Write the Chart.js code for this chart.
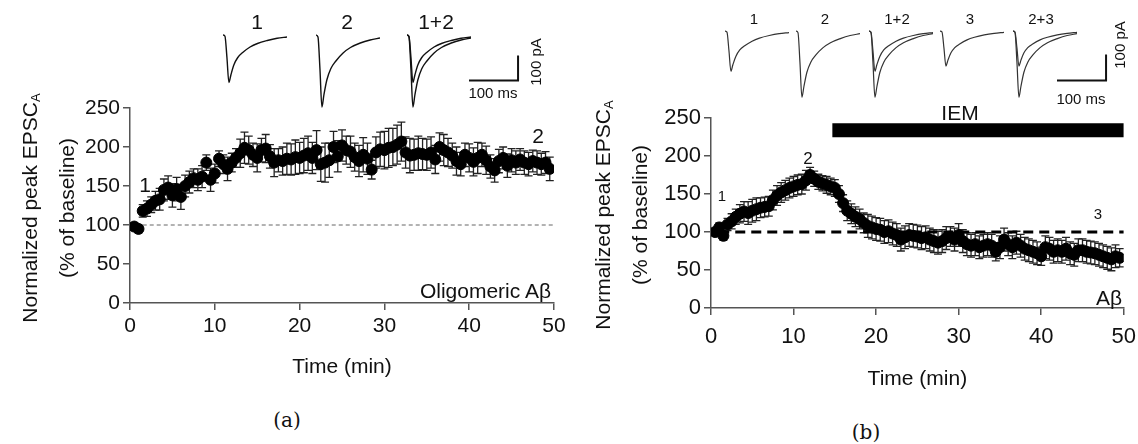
<!DOCTYPE html>
<html>
<head>
<meta charset="utf-8">
<script src="https://cdn.jsdelivr.net/npm/chart.js@4"></script>
<style>
  body { margin: 0; background: #fff; }
  #page { position: relative; width: 1138px; height: 444px; overflow: hidden; font-family: 'Liberation Sans', Arial, sans-serif; color: #111; }
  canvas { position: absolute; }
  .lbl { position: absolute; transform: translate(-50%, -50%); white-space: nowrap; line-height: 1; }
  .rgt { transform: translate(-100%, -50%); }
  .ytitle { position: absolute; width: 300px; text-align: center; line-height: 31px; font-size: 21px;
            transform: translate(-50%, -50%) rotate(-90deg); }
  .ytitle sub { font-size: 13px; vertical-align: -3px; }
  .rot { transform: translate(-50%, -50%) rotate(-90deg); }
  .cap { font-family: 'DejaVu Serif', 'Liberation Serif', serif; font-size: 20px; }
</style>
</head>
<body>
<div id="page">
  <canvas id="chartA" width="575" height="300" style="left:0;top:90px"></canvas>
  <canvas id="chartB" width="570" height="300" style="left:575px;top:100px"></canvas>

  <canvas id="trA1" width="64" height="77" style="left:223px;top:33px"></canvas>
  <canvas id="trA2" width="64" height="77" style="left:316px;top:33px"></canvas>
  <canvas id="trA3" width="64" height="77" style="left:407px;top:33px"></canvas>
  <canvas id="barA" width="52" height="30" style="left:469px;top:53px"></canvas>

  <canvas id="trB1" width="64" height="72" style="left:725px;top:29px"></canvas>
  <canvas id="trB2" width="64" height="72" style="left:796px;top:29px"></canvas>
  <canvas id="trB3" width="64" height="72" style="left:869px;top:29px"></canvas>
  <canvas id="trB4" width="64" height="72" style="left:940px;top:29px"></canvas>
  <canvas id="trB5" width="64" height="72" style="left:1013px;top:29px"></canvas>
  <canvas id="barB" width="52" height="31" style="left:1057px;top:52px"></canvas>

  <!-- panel a text -->
  <div class="ytitle" style="left:48px;top:208px">Normalized peak EPSC<sub>A</sub><br>(% of baseline)</div>
  <div class="lbl" style="left:257px;top:21px;font-size:21px">1</div>
  <div class="lbl" style="left:347px;top:21px;font-size:21px">2</div>
  <div class="lbl" style="left:436px;top:21px;font-size:21px">1+2</div>
  <div class="lbl" style="left:493px;top:92px;font-size:15px">100 ms</div>
  <div class="lbl rot" style="left:535px;top:62px;font-size:15px">100 pA</div>
  <div class="lbl" style="left:145px;top:184px;font-size:21px">1</div>
  <div class="lbl" style="left:538px;top:135px;font-size:21px">2</div>
  <div class="lbl rgt" style="left:551px;top:290px;font-size:21px">Oligomeric Aβ</div>
  <div class="lbl cap" style="left:287px;top:420px">(a)</div>

  <!-- panel b text -->
  <div class="ytitle" style="left:621px;top:215px">Normalized peak EPSC<sub>A</sub><br>(% of baseline)</div>
  <div class="lbl" style="left:754px;top:18px;font-size:15px">1</div>
  <div class="lbl" style="left:825px;top:18px;font-size:15px">2</div>
  <div class="lbl" style="left:897px;top:18px;font-size:15px">1+2</div>
  <div class="lbl" style="left:970px;top:18px;font-size:15px">3</div>
  <div class="lbl" style="left:1041px;top:18px;font-size:15px">2+3</div>
  <div class="lbl" style="left:1081px;top:98px;font-size:15px">100 ms</div>
  <div class="lbl rot" style="left:1119px;top:45px;font-size:15px">100 pA</div>
  <div class="lbl" style="left:960px;top:112px;font-size:21px">IEM</div>
  <div class="lbl" style="left:722px;top:195px;font-size:15px">1</div>
  <div class="lbl" style="left:808px;top:158px;font-size:17px">2</div>
  <div class="lbl" style="left:1098px;top:213px;font-size:15px">3</div>
  <div class="lbl rgt" style="left:1122px;top:297px;font-size:21px">Aβ</div>
  <div class="lbl cap" style="left:866px;top:432px">(b)</div>
</div>

<script>
// ---- data: panel (a), oligomeric Abeta ----
const timesA = [0.5, 1, 1.5, 2, 2.5, 3, 3.5, 4, 4.5, 5, 5.5, 6, 6.5, 7, 7.5, 8, 8.5, 9, 9.5, 10,
  10.5, 11, 11.5, 12, 12.5, 13, 13.5, 14, 14.5, 15, 15.5, 16, 16.5, 17, 17.5, 18, 18.5, 19, 19.5, 20,
  20.5, 21, 21.5, 22, 22.5, 23, 23.5, 24, 24.5, 25, 25.5, 26, 26.5, 27, 27.5, 28, 28.5, 29, 29.5, 30,
  30.5, 31, 31.5, 32, 32.5, 33, 33.5, 34, 34.5, 35, 35.5, 36, 36.5, 37, 37.5, 38, 38.5, 39, 39.5, 40,
  40.5, 41, 41.5, 42, 42.5, 43, 43.5, 44, 44.5, 45, 45.5, 46, 46.5, 47, 47.5, 48, 48.5, 49, 49.5];
const valuesA = [98, 95, 118, 121, 126, 131, 133, 145, 148, 138, 146, 136, 150, 155, 160, 158, 162, 180, 158, 166,
  185, 178, 172, 180, 186, 192, 199, 196, 190, 186, 196, 198, 188, 180, 183, 182, 185, 184, 187, 186,
  189, 192, 186, 196, 178, 180, 183, 200, 188, 202, 196, 194, 187, 182, 190, 185, 171, 193, 197, 196,
  199, 200, 203, 207, 193, 189, 190, 192, 191, 190, 193, 184, 200, 196, 193, 189, 182, 178, 190, 186,
  181, 186, 190, 183, 175, 170, 182, 186, 176, 183, 180, 184, 180, 178, 182, 180, 178, 180, 172];
const errorsA = [5, 5, 8, 10, 10, 12, 14, 14, 15, 15, 15, 16, 14, 14, 12, 14, 14, 10, 15, 12,
  10, 12, 15, 12, 12, 18, 20, 18, 15, 18, 15, 18, 15, 18, 15, 18, 20, 20, 22, 20,
  22, 22, 20, 25, 22, 25, 22, 20, 20, 20, 18, 20, 18, 20, 22, 20, 12, 20, 22, 24,
  25, 24, 25, 25, 20, 22, 20, 22, 20, 20, 20, 18, 18, 20, 18, 16, 18, 15, 15, 18,
  18, 20, 15, 18, 15, 15, 15, 14, 15, 15, 15, 14, 15, 15, 14, 15, 14, 14, 15];

// ---- data: panel (b), Abeta + IEM ----
const timesB = timesA.slice();
const valuesB = [100, 106, 95, 110, 114, 120, 124, 127, 125, 128, 130, 132, 133, 134, 142, 148, 152, 155, 158, 160,
  162, 163, 168, 175, 170, 166, 164, 162, 160, 158, 150, 138, 128, 124, 120, 117, 112, 108, 106, 104,
  103, 100, 101, 98, 96, 90, 93, 96, 95, 94, 92, 93, 90, 88, 86, 88, 92, 94, 90, 96,
  88, 84, 82, 84, 80, 82, 84, 82, 74, 80, 90, 84, 80, 86, 82, 78, 76, 74, 72, 68,
  80, 78, 74, 76, 74, 78, 72, 70, 76, 76, 74, 73, 72, 70, 68, 66, 64, 68, 66];
const errorsB = [5, 6, 6, 8, 10, 10, 12, 13, 15, 15, 15, 13, 13, 13, 13, 13, 13, 13, 13, 13,
  13, 13, 13, 10, 10, 10, 10, 11, 11, 11, 11, 11, 13, 13, 13, 13, 13, 15, 15, 15,
  15, 15, 15, 15, 15, 15, 15, 15, 15, 15, 15, 15, 15, 15, 15, 15, 15, 13, 15, 15,
  15, 15, 15, 15, 15, 15, 15, 15, 12, 15, 15, 15, 15, 15, 15, 15, 15, 15, 15, 12,
  15, 15, 15, 15, 15, 15, 15, 15, 15, 15, 15, 15, 15, 15, 15, 15, 15, 15, 12];

const baselineA = [1.5, 50];
const baselineB = [1, 50];
const iemPeriod = [14.7, 50];
const iemLevel = 234;
const yTicks = [0, 50, 100, 150, 200, 250];
const xTicks = [0, 10, 20, 30, 40, 50];

// ---- data: example EPSC traces (time in ms, current in pA) ----
const traceTimes = [0, 4, 8, 12, 16, 22, 30, 40, 55, 70, 90, 110, 130];
const traceA1 = [0, -5, -90, -190, -160, -120, -90, -70, -48, -34, -22, -13, -8];
const traceA2 = [0, -8, -135, -288, -240, -180, -135, -105, -72, -50, -32, -20, -12];
const traceB1 = [0, -4, -75, -155, -130, -98, -73, -57, -39, -27, -17, -10, -6];
const traceB2 = [0, -6, -120, -255, -215, -160, -120, -93, -64, -45, -29, -17, -10];
const traceB3 = [0, -3, -65, -135, -113, -85, -64, -50, -34, -24, -15, -9, -5];
const scaleBarX = [0, 100, 100];   // ms
const scaleBarY = [0, 0, 100];     // pA

Chart.defaults.font.family = "'Liberation Sans', Arial, sans-serif";
Chart.defaults.color = '#111';
Chart.defaults.animation = false;

const errorBars = {
  id: 'errorBars',
  beforeDatasetsDraw(chart) {
    const ctx = chart.ctx;
    const ys = chart.scales.y;
    chart.data.datasets.forEach((ds, i) => {
      if (!ds.errors) return;
      const meta = chart.getDatasetMeta(i);
      ctx.save();
      ctx.strokeStyle = '#222';
      ctx.lineWidth = 1.3;
      meta.data.forEach((pt, j) => {
        const v = ds.data[j].y, e = ds.errors[j];
        const top = ys.getPixelForValue(v + e);
        const bot = ys.getPixelForValue(v - e);
        const cap = 4;
        ctx.beginPath();
        ctx.moveTo(pt.x, top); ctx.lineTo(pt.x, bot);
        ctx.moveTo(pt.x - cap, top); ctx.lineTo(pt.x + cap, top);
        ctx.moveTo(pt.x - cap, bot); ctx.lineTo(pt.x + cap, bot);
        ctx.stroke();
      });
      ctx.restore();
    });
  }
};

function mainChart(id, times, values, errors, cfg) {
  const datasets = [{
    type: 'scatter',
    data: times.map((t, i) => ({ x: t, y: values[i] })),
    errors: errors,
    backgroundColor: '#000',
    borderColor: '#000',
    pointRadius: cfg.radius,
    pointHoverRadius: cfg.radius,
    order: 1
  }, {
    type: 'line',
    data: cfg.baseline.map(t => ({ x: t, y: 100 })),
    borderColor: cfg.dashColor,
    borderWidth: cfg.dashWidth,
    borderDash: cfg.dash,
    pointRadius: 0,
    order: 3
  }].concat(cfg.extra || []);

  const axisLine = { display: true, color: '#555', width: 1.5 };
  const axisGrid = { display: true, drawOnChartArea: false, drawTicks: true, tickLength: 7, color: '#555', lineWidth: 1.5 };

  new Chart(document.getElementById(id), {
    type: 'scatter',
    data: { datasets },
    plugins: [errorBars],
    options: {
      responsive: false,
      devicePixelRatio: 1,
      layout: { padding: cfg.padding },
      plugins: { legend: { display: false }, tooltip: { enabled: false } },
      scales: {
        x: {
          type: 'linear', min: 0, max: 50,
          afterBuildTicks: s => { s.ticks = xTicks.map(v => ({ value: v })); },
          ticks: { font: { size: cfg.fontSize }, padding: cfg.xTickPad, color: '#111', maxRotation: 0 },
          grid: axisGrid, border: axisLine,
          title: { display: true, text: 'Time (min)', font: { size: 21 }, color: '#111', padding: { top: cfg.titlePad, bottom: cfg.titlePad } },
          afterFit: s => { s.height = cfg.xHeight; }
        },
        y: {
          type: 'linear', min: 0, max: 250,
          afterBuildTicks: s => { s.ticks = yTicks.map(v => ({ value: v })); },
          ticks: { font: { size: cfg.fontSize }, padding: 3, color: '#111' },
          grid: axisGrid, border: axisLine,
          afterFit: s => { s.width = cfg.yWidth; }
        }
      }
    }
  });
}

mainChart('chartA', timesA, valuesA, errorsA, {
  radius: 5.5, baseline: baselineA, dashColor: '#666', dashWidth: 1, dash: [4, 3],
  padding: { left: 0, top: 18, right: 21, bottom: 0 },
  yWidth: 130, xHeight: 87, fontSize: 21, xTickPad: 4, titlePad: 10
});

mainChart('chartB', timesB, valuesB, errorsB, {
  radius: 5.5, baseline: baselineB, dashColor: '#000', dashWidth: 3, dash: [10, 6],
  padding: { left: 0, top: 18, right: 0, bottom: 0 },
  yWidth: 136, xHeight: 92, fontSize: 22, xTickPad: 9, titlePad: 8,
  extra: [{
    type: 'line',
    data: iemPeriod.map(t => ({ x: t, y: iemLevel })),
    borderColor: '#000',
    borderWidth: 14,
    borderCapStyle: 'butt',
    pointRadius: 0,
    order: 2
  }]
});

function traceChart(id, traces, yMin, yMax, xMax, color, width, smooth) {
  new Chart(document.getElementById(id), {
    type: 'line',
    data: {
      datasets: traces.map(tr => ({
        data: tr.x.map((t, i) => ({ x: t, y: tr.y[i] })),
        borderColor: color,
        borderWidth: width,
        pointRadius: 0,
        cubicInterpolationMode: smooth ? 'monotone' : 'default',
        tension: 0,
        clip: false
      }))
    },
    options: {
      responsive: false,
      devicePixelRatio: 1,
      layout: { padding: 0 },
      plugins: { legend: { display: false }, tooltip: { enabled: false } },
      scales: {
        x: { type: 'linear', min: 0, max: xMax, display: false },
        y: { type: 'linear', min: yMin, max: yMax, display: false }
      }
    }
  });
}

const tA1 = { x: traceTimes, y: traceA1 }, tA2 = { x: traceTimes, y: traceA2 };
traceChart('trA1', [tA1], -300, 8, 130, '#111', 1.4, true);
traceChart('trA2', [tA2], -300, 8, 130, '#111', 1.4, true);
traceChart('trA3', [tA1, tA2], -300, 8, 130, '#111', 1.4, true);
traceChart('barA', [{ x: scaleBarX, y: scaleBarY }], -10, 110, 106, '#111', 2, false);

const tB1 = { x: traceTimes, y: traceB1 }, tB2 = { x: traceTimes, y: traceB2 }, tB3 = { x: traceTimes, y: traceB3 };
traceChart('trB1', [tB1], -270, 8, 130, '#333', 1.2, true);
traceChart('trB2', [tB2], -270, 8, 130, '#333', 1.2, true);
traceChart('trB3', [tB1, tB2], -270, 8, 130, '#333', 1.2, true);
traceChart('trB4', [tB3], -270, 8, 130, '#333', 1.2, true);
traceChart('trB5', [tB2, tB3], -270, 8, 130, '#333', 1.2, true);
traceChart('barB', [{ x: scaleBarX, y: scaleBarY }], -10, 110, 106, '#111', 2, false);
</script>
</body>
</html>
